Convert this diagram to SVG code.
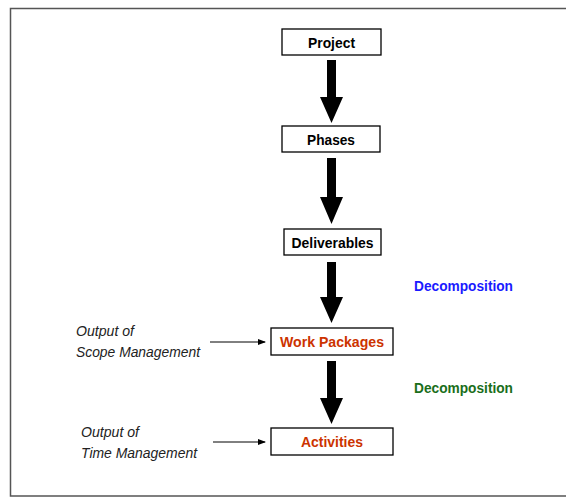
<svg xmlns="http://www.w3.org/2000/svg" width="566" height="497" viewBox="0 0 566 497">
<defs>
<style>
.box{fill:#fff;stroke:#000;stroke-width:1.3}
.lbl{font-family:"Liberation Sans",Arial,sans-serif;font-weight:bold;font-size:15px;text-anchor:middle}
.blk{fill:#000}
.red{fill:#cc3300}
.note{font-family:"Liberation Sans",Arial,sans-serif;font-style:italic;font-size:14px;fill:#222}
.dec{font-family:"Liberation Sans",Arial,sans-serif;font-weight:bold;font-size:14px}
.big{fill:#000}
.thin{stroke:#000;stroke-width:1;fill:none}
</style>
<marker id="ah" markerWidth="8" markerHeight="6" refX="7" refY="3" orient="auto" markerUnits="userSpaceOnUse">
<path d="M0,0 L8,3 L0,6 Z" fill="#000"/>
</marker>
</defs>
<rect width="566" height="497" fill="#fff"/>
<rect x="10.5" y="8.5" width="570" height="487.5" fill="none" stroke="#555" stroke-width="1.5"/>
<g id="connectors">
<path class="big" d="M327,60 H336 V97 H343 L331.5,123 L320,97 H327 Z"/>
<path class="big" d="M327,158 H336 V197 H343 L331.5,224 L320,197 H327 Z"/>
<path class="big" d="M327,262 H336 V297 H343 L331.5,323 L320,297 H327 Z"/>
<path class="big" d="M327,361 H336 V398 H343 L331.5,424 L320,398 H327 Z"/>
<line class="thin" x1="210" y1="342" x2="265" y2="342" marker-end="url(#ah)"/>
<line class="thin" x1="213" y1="442" x2="265" y2="442" marker-end="url(#ah)"/>
</g>
<g id="project"><rect class="box" x="282" y="29" width="99" height="26"/><text class="lbl blk" x="331.5" y="47.5" textLength="47" lengthAdjust="spacingAndGlyphs">Project</text></g>
<g id="phases"><rect class="box" x="282" y="126" width="98" height="26"/><text class="lbl blk" x="331" y="144.5" textLength="48" lengthAdjust="spacingAndGlyphs">Phases</text></g>
<g id="deliverables"><rect class="box" x="284" y="229" width="97" height="26"/><text class="lbl blk" x="332.5" y="247.5" textLength="82" lengthAdjust="spacingAndGlyphs">Deliverables</text></g>
<g id="workpackages"><rect class="box" x="271" y="328" width="122" height="27"/><text class="lbl red" x="332" y="347" textLength="104" lengthAdjust="spacingAndGlyphs">Work Packages</text></g>
<g id="activities"><rect class="box" x="271" y="428" width="122" height="27"/><text class="lbl red" x="332" y="447" textLength="62" lengthAdjust="spacingAndGlyphs">Activities</text></g>
<g id="scope-note"><text class="note" x="76" y="336" textLength="58" lengthAdjust="spacingAndGlyphs">Output of</text><text class="note" x="76" y="357" textLength="124" lengthAdjust="spacingAndGlyphs">Scope Management</text></g>
<g id="time-note"><text class="note" x="81" y="437" textLength="58" lengthAdjust="spacingAndGlyphs">Output of</text><text class="note" x="81" y="458" textLength="116" lengthAdjust="spacingAndGlyphs">Time Management</text></g>
<g id="decomp1"><text class="dec" x="414" y="291" fill="#1a1aff" textLength="99" lengthAdjust="spacingAndGlyphs">Decomposition</text></g>
<g id="decomp2"><text class="dec" x="414" y="393" fill="#1a6e1a" textLength="99" lengthAdjust="spacingAndGlyphs">Decomposition</text></g>
</svg>
